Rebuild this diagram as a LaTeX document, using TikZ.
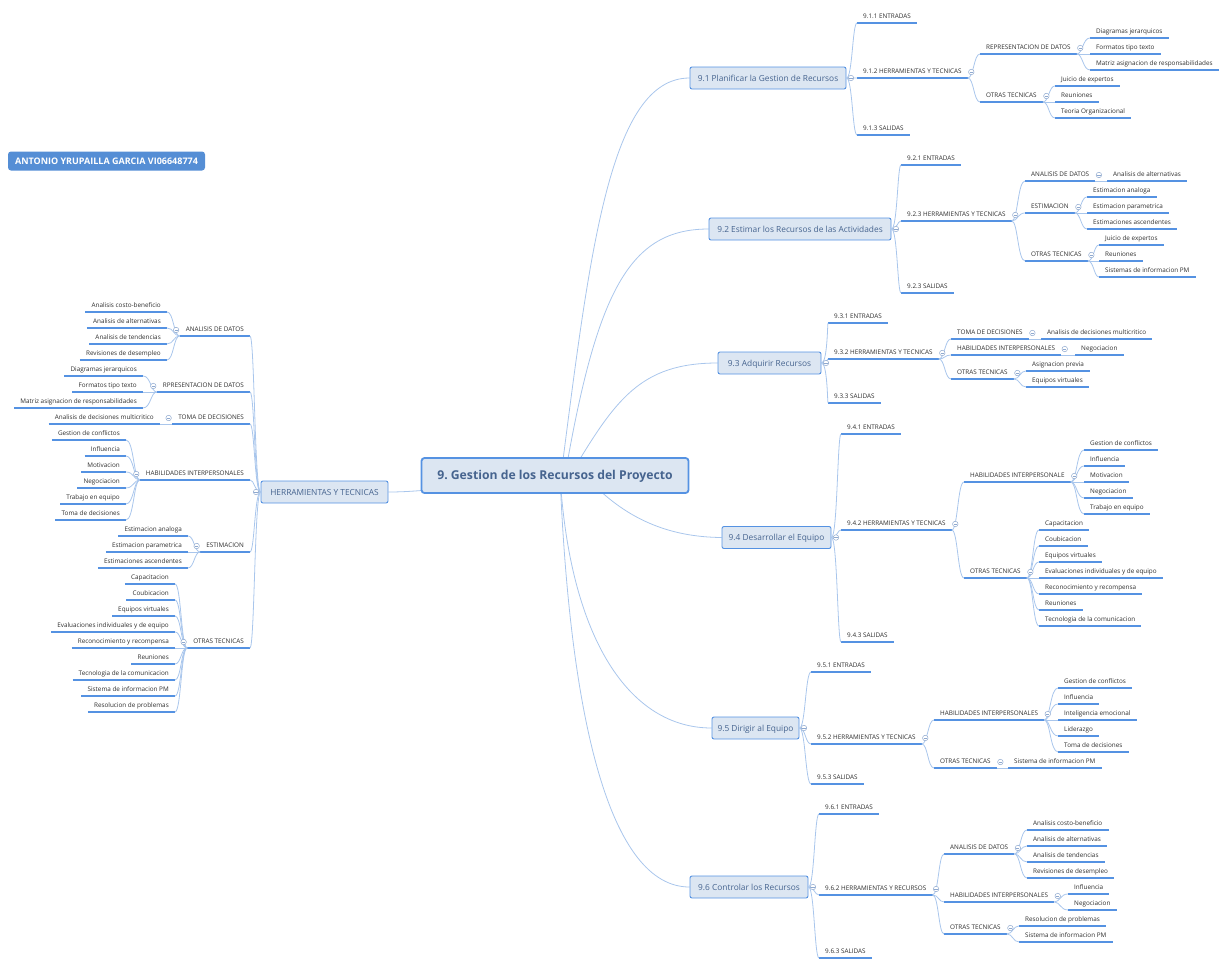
\documentclass[tikz,border=0pt]{standalone}
\usepackage{fontspec}
\setmainfont{Open Sans}
\usetikzlibrary{calc,backgrounds}
\definecolor{rulecol}{HTML}{5592E2}
\definecolor{linkcol}{HTML}{A9C6EC}
\definecolor{boxfill}{HTML}{DCE6F2}
\definecolor{boxtext}{HTML}{46648F}
\definecolor{foldcol}{HTML}{8FA9CF}
\definecolor{authcol}{HTML}{558ED5}
\begin{document}
\frenchspacing
\begin{tikzpicture}[x=1pt,y=-1pt]
    \tikzset{topic/.style={font=\fontsize{6.35}{7}\selectfont, text=black!82, inner xsep=6, inner ysep=2.4, text height=5, text depth=1.7, yshift=-1}}
    \tikzset{rule/.style={rulecol, line width=1.15pt}}
    \tikzset{link/.style={linkcol, line width=0.8pt}}
    \tikzset{branch/.style={to path={.. controls ($(\tikztostart)+(#1,0)$) and ($(\tikztostart |- \tikztotarget)+(#1,0)$) .. (\tikztotarget)}}}
    \tikzset{subject/.style={draw=rulecol, fill=boxfill, rounded corners=2, line width=0.9pt, text=boxtext, font=\fontsize{8.35}{9}\selectfont, text height=8, text depth=2, minimum height=22, inner sep=0}}
    \tikzset{fold/.style={circle, draw=foldcol, fill=white, line width=0.5pt, minimum size=5.5, inner sep=0,
        path picture={\draw[foldcol, line width=0.5pt] ([xshift=-1.6]path picture bounding box.center) -- ([xshift=1.6]path picture bounding box.center);}}}
    \useasboundingbox (0,0) rectangle (1228,967);

    \node[subject, line width=1.8pt, rounded corners=3, minimum width=267, minimum height=35, text height=11, text depth=2.2, font=\fontsize{12.2}{13}\bfseries] (root) at (555,475.5) {9. Gestion de los Recursos del Proyecto};
    \node[fill=authcol, rounded corners=3, text=white, minimum width=197, minimum height=19, text height=8, text depth=1.6, inner sep=0, font=\fontsize{9}{9}\bfseries] (author) at (106.5,161) {ANTONIO YRUPAILLA GARCIA VI06648774};

    \foreach \nm/\x/\y/\w/\txt in {
        b91/768/78/156/9.1 Planificar la Gestion de Recursos,
        b92/800/229/182/9.2 Estimar los Recursos de las Actividades,
        b93/769.5/363/103/9.3 Adquirir Recursos,
        b94/776.5/537.5/109/9.4 Desarrollar el Equipo,
        b95/755.5/728/87/9.5 Dirigir al Equipo,
        b96/749/887/118/9.6 Controlar los Recursos,
        ht/324.5/492/127/HERRAMIENTAS Y TECNICAS} {
        \node[subject, minimum width=\w] (\nm) at (\x,\y) {\txt};
    }

    \begin{pgfonlayer}{background}
        \draw[link] ([xshift=6]root.center) .. controls (590,250) and (610,78) .. (b91.west);
        \draw[link] ([xshift=10]root.center) .. controls (597,290) and (630,229) .. (b92.west);
        \draw[link] ([xshift=15]root.center) .. controls (615,400) and (640,363) .. (b93.west);
        \draw[link] ([xshift=30]root.center) .. controls (625,520) and (670,537) .. (b94.west);
        \draw[link] ([xshift=5]root.center) .. controls (570,640) and (630,728) .. (b95.west);
        \draw[link] ([xshift=5]root.center) .. controls (570,720) and (610,887) .. (b96.west);
        \draw[link] (root.center) .. controls (440,490) and (410,492) .. (ht.east);
    \end{pgfonlayer}

    \foreach \nm/\up/\x/\y/\txt in {
        t911/b91/857/16/9.1.1 ENTRADAS,
        t912/b91/857/71/9.1.2 HERRAMIENTAS Y TECNICAS,
        t913/b91/857/128/9.1.3 SALIDAS,
        t921/b92/901/158/9.2.1 ENTRADAS,
        t922/b92/901/214/9.2.3 HERRAMIENTAS Y TECNICAS,
        t923/b92/901/286/9.2.3 SALIDAS,
        t931/b93/828/316/9.3.1 ENTRADAS,
        t932/b93/828/352/9.3.2 HERRAMIENTAS Y TECNICAS,
        t933/b93/828/396/9.3.3 SALIDAS,
        t941/b94/841/427/9.4.1 ENTRADAS,
        t942/b94/841/523/9.4.2 HERRAMIENTAS Y TECNICAS,
        t943/b94/841/635/9.4.3 SALIDAS,
        t951/b95/811/665/9.5.1 ENTRADAS,
        t952/b95/811/737/9.5.2 HERRAMIENTAS Y TECNICAS,
        t953/b95/811/777/9.5.3 SALIDAS,
        t961/b96/819/807/9.6.1 ENTRADAS,
        t962/b96/819/888/9.6.2 HERRAMIENTAS Y RECURSOS,
        t963/b96/819/951/9.6.3 SALIDAS} {
        \node[topic, anchor=west] (\nm) at (\x,\y) {\txt};
        \draw[rule] (\nm.south west) -- (\nm.south east);
        \draw[link, branch=6] (\up.east) to (\nm.south west);
    }

    \foreach \nm/\up/\x/\y/\txt in {
        a1/t912/980/47/REPRESENTACION DE DATOS,
        a2/t912/980/95/OTRAS TECNICAS,
        a11/a1/1090/31/Diagramas jerarquicos,
        a12/a1/1090/47/Formatos tipo texto,
        a13/a1/1090/63/Matriz asignacion de responsabilidades,
        a21/a2/1055/79/Juicio de expertos,
        a22/a2/1055/95/Reuniones,
        a23/a2/1055/111/Teoria Organizacional,
        c1/t922/1025/174/ANALISIS DE DATOS,
        c2/t922/1025/206/ESTIMACION,
        c3/t922/1025/254/OTRAS TECNICAS,
        c11/c1/1107/174/Analisis de alternativas,
        c21/c2/1087/190/Estimacion analoga,
        c22/c2/1087/206/Estimacion parametrica,
        c23/c2/1087/222/Estimaciones ascendentes,
        c31/c3/1099/238/Juicio de expertos,
        c32/c3/1099/254/Reuniones,
        c33/c3/1099/270/Sistemas de informacion PM,
        d1/t932/951/332/TOMA DE DECISIONES,
        d2/t932/951/348/HABILIDADES INTERPERSONALES,
        d3/t932/951/372/OTRAS TECNICAS,
        d11/d1/1041/332/Analisis de decisiones multicritico,
        d21/d2/1075/348/Negociacion,
        d31/d3/1026/364/Asignacion previa,
        d32/d3/1026/380/Equipos virtuales,
        e1/t942/964/475/HABILIDADES INTERPERSONALE,
        e2/t942/964/571/OTRAS TECNICAS,
        e11/e1/1084/443/Gestion de conflictos,
        e12/e1/1084/459/Influencia,
        e13/e1/1084/475/Motivacion,
        e14/e1/1084/491/Negociacion,
        e15/e1/1084/507/Trabajo en equipo,
        e21/e2/1039/523/Capacitacion,
        e22/e2/1039/539/Coubicacion,
        e23/e2/1039/555/Equipos virtuales,
        e24/e2/1039/571/Evaluaciones individuales y de equipo,
        e25/e2/1039/587/Reconocimiento y recompensa,
        e26/e2/1039/603/Reuniones,
        e27/e2/1039/619/Tecnologia de la comunicacion,
        f1/t952/934/713/HABILIDADES INTERPERSONALES,
        f2/t952/934/761/OTRAS TECNICAS,
        f11/f1/1058/681/Gestion de conflictos,
        f12/f1/1058/697/Influencia,
        f13/f1/1058/713/Inteligencia emocional,
        f14/f1/1058/729/Liderazgo,
        f15/f1/1058/745/Toma de decisiones,
        f21/f2/1008/761/Sistema de informacion PM,
        g1/t962/944/847/ANALISIS DE DATOS,
        g2/t962/944/895/HABILIDADES INTERPERSONALES,
        g3/t962/944/927/OTRAS TECNICAS,
        g11/g1/1027/823/Analisis costo-beneficio,
        g12/g1/1027/839/Analisis de alternativas,
        g13/g1/1027/855/Analisis de tendencias,
        g14/g1/1027/871/Revisiones de desempleo,
        g21/g2/1068/887/Influencia,
        g22/g2/1068/903/Negociacion,
        g31/g3/1019/919/Resolucion de problemas,
        g32/g3/1019/935/Sistema de informacion PM} {
        \node[topic, anchor=west] (\nm) at (\x,\y) {\txt};
        \draw[rule] (\nm.south west) -- (\nm.south east);
        \draw[link, branch=6] (\up.south east) to (\nm.south west);
    }

    \foreach \nm/\x/\y/\txt in {
        h1/250/329/ANALISIS DE DATOS,
        h2/250/385/RPRESENTACION DE DATOS,
        h3/250/417/TOMA DE DECISIONES,
        h4/250/473/HABILIDADES INTERPERSONALES,
        h5/250/545/ESTIMACION,
        h6/250/641/OTRAS TECNICAS} {
        \node[topic, anchor=east] (\nm) at (\x,\y) {\txt};
        \draw[rule] (\nm.south west) -- (\nm.south east);
        \draw[link, branch=-6] (ht.west) to (\nm.south east);
    }

    \foreach \nm/\up/\x/\y/\txt in {
        h11/h1/167/305/Analisis costo-beneficio,
        h12/h1/167/321/Analisis de alternativas,
        h13/h1/167/337/Analisis de tendencias,
        h14/h1/167/353/Revisiones de desempleo,
        h21/h2/143/369/Diagramas jerarquicos,
        h22/h2/143/385/Formatos tipo texto,
        h23/h2/143/401/Matriz asignacion de responsabilidades,
        h31/h3/160/417/Analisis de decisiones multicritico,
        h41/h4/126/433/Gestion de conflictos,
        h42/h4/126/449/Influencia,
        h43/h4/126/465/Motivacion,
        h44/h4/126/481/Negociacion,
        h45/h4/126/497/Trabajo en equipo,
        h46/h4/126/513/Toma de decisiones,
        h51/h5/188/529/Estimacion analoga,
        h52/h5/188/545/Estimacion parametrica,
        h53/h5/188/561/Estimaciones ascendentes,
        h61/h6/175/577/Capacitacion,
        h62/h6/175/593/Coubicacion,
        h63/h6/175/609/Equipos virtuales,
        h64/h6/175/625/Evaluaciones individuales y de equipo,
        h65/h6/175/641/Reconocimiento y recompensa,
        h66/h6/175/657/Reuniones,
        h67/h6/175/673/Tecnologia de la comunicacion,
        h68/h6/175/689/Sistema de informacion PM,
        h69/h6/175/705/Resolucion de problemas} {
        \node[topic, anchor=east] (\nm) at (\x,\y) {\txt};
        \draw[rule] (\nm.south west) -- (\nm.south east);
        \draw[link, branch=-6] (\up.south west) to (\nm.south east);
    }

    \foreach \up in {b91,b92,b93,b94,b95,b96}
        \node[fold] (fold\up) at ([xshift=4.5]\up.east) {};
    \foreach \up in {t912,a1,a2,t922,c1,c2,c3,t932,d1,d2,d3,t942,e1,e2,t952,f1,f2,t962,g1,g2,g3}
        \node[fold] (fold\up) at ([xshift=3.5]\up.east) {};
    \node[fold] (foldht) at ([xshift=-4.5]ht.west) {};
    \foreach \up in {h1,h2,h3,h4,h5,h6}
        \node[fold] (fold\up) at ([xshift=-3.5]\up.west) {};
\end{tikzpicture}
\end{document}
